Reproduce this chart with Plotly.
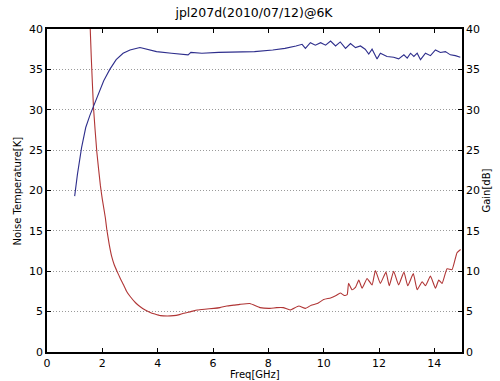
import plotly.graph_objects as go

title_text = "jpl207d(2010/07/12)@6K"
x_title = "Freq[GHz]"
y_title = "Noise Temperature[K]"
y2_title = "Gain[dB]"

noise_freq = [1.45, 1.55, 1.6, 1.68, 1.8, 1.93, 2.0, 2.11, 2.16, 2.25, 2.34, 2.43, 2.53, 2.65, 2.77, 2.88, 3.0, 3.2, 3.37, 3.55, 3.73, 3.9,
              4.1, 4.35, 4.58, 4.75, 4.94, 5.2, 5.43, 5.7, 6.03, 6.25, 6.5, 6.75, 6.97, 7.33, 7.7, 8.06,
              8.3, 8.54, 8.79, 9.1, 9.34, 9.55, 9.77, 10.0, 10.25, 10.45, 10.6, 10.75, 10.85, 10.9, 11.03,
              11.15, 11.27, 11.39, 11.57, 11.75, 11.87, 12.05, 12.25, 12.37, 12.53, 12.71, 12.9, 13.04,
              13.24, 13.38, 13.56, 13.68, 13.86, 14.04, 14.16, 14.28, 14.46, 14.64, 14.82, 14.95]
noise_temp = [48.0, 41.2, 36.5, 30.3, 24.8, 20.6, 18.9, 16.6, 15.2, 13.3, 11.8, 10.8, 10.0, 9.1, 8.3, 7.5, 6.9, 6.1, 5.6, 5.2, 4.9, 4.7,
              4.5, 4.45, 4.5, 4.6, 4.8, 5.0, 5.2, 5.3, 5.4, 5.5, 5.7, 5.8, 5.9, 6.0, 5.5, 5.4,
              5.5, 5.5, 5.2, 5.7, 5.4, 5.8, 6.0, 6.5, 6.7, 7.0, 7.3, 7.0, 7.1, 8.5, 7.7,
              8.0, 8.9, 7.9, 9.1, 8.3, 10.1, 8.5, 9.9, 8.2, 10.0, 8.3, 9.9, 8.2,
              9.7, 7.7, 8.7, 8.2, 9.4, 7.9, 8.9, 8.5, 10.3, 10.2, 12.3, 12.7]

gain_freq = [1.0, 1.1, 1.25, 1.4, 1.55, 1.67, 1.85, 2.05, 2.27, 2.5, 2.75, 3.0, 3.36, 3.7, 3.96, 4.5, 5.1,
             5.2, 5.6, 6.2, 7.0, 7.5, 8.16, 8.6, 9.0, 9.22, 9.34, 9.52, 9.7, 9.89, 10.07, 10.25, 10.43,
             10.6, 10.79, 10.97, 11.15, 11.33, 11.5, 11.63, 11.75, 11.93, 12.05, 12.29, 12.53, 12.71,
             12.9, 13.02, 13.14, 13.26, 13.38, 13.5, 13.68, 13.86, 14.04, 14.22, 14.4, 14.58, 14.76, 14.94]
gain_db = [19.3, 22.0, 25.3, 27.8, 29.3, 30.3, 32.0, 33.6, 35.0, 36.2, 37.0, 37.4, 37.7, 37.4, 37.2, 37.0, 36.8,
           37.1, 37.0, 37.1, 37.2, 37.2, 37.4, 37.6, 37.9, 38.1, 37.6, 38.3, 38.0, 38.3, 38.0, 38.5, 37.9,
           38.4, 37.6, 38.2, 37.7, 37.9, 37.5, 36.9, 37.5, 36.3, 37.0, 36.6, 36.5, 36.3,
           36.8, 36.4, 37.0, 36.6, 37.0, 36.2, 37.0, 36.7, 37.4, 37.1, 37.2, 36.8, 36.7, 36.5]

x_ticks = [0, 2, 4, 6, 8, 10, 12, 14]
y_ticks = [0, 5, 10, 15, 20, 25, 30, 35, 40]

FONT = "DejaVu Sans"

fig = go.Figure()
fig.add_trace(go.Scatter(x=noise_freq, y=noise_temp, mode="lines",
                         line=dict(color="#b03535", width=1.1, shape="spline", smoothing=0.4),
                         yaxis="y", showlegend=False))
fig.add_trace(go.Scatter(x=gain_freq, y=gain_db, mode="lines",
                         line=dict(color="#2e2e8c", width=1.1), yaxis="y2", showlegend=False))

axis_common = dict(showline=True, linecolor="black", linewidth=1.5, ticks="inside", ticklen=4,
                   tickcolor="black", tickfont=dict(family=FONT, size=11, color="black"),
                   zeroline=False, automargin=False)

fig.update_layout(
    width=500, height=381,
    margin=dict(l=47, r=38, t=29, b=29),
    paper_bgcolor="white", plot_bgcolor="white",
    font=dict(family=FONT, color="black"),
    title=dict(text=title_text, x=0.508, xanchor="center", y=0.966, yanchor="middle",
               font=dict(family=FONT, size=12.5, color="black")),
    xaxis=dict(range=[0, 15], tickvals=x_ticks, mirror="ticks", showgrid=False, **axis_common),
    yaxis=dict(range=[0, 40], tickvals=y_ticks, mirror=True, showgrid=True,
               gridcolor="#9a9a9a", griddash="1px,2px", gridwidth=1, **axis_common),
    yaxis2=dict(range=[0, 40], tickvals=y_ticks, overlaying="y", side="right", showgrid=False,
                **axis_common),
    annotations=[
        dict(text=x_title, xref="paper", yref="paper", x=0.5, y=-0.071, xanchor="center",
             yanchor="middle", showarrow=False, font=dict(family=FONT, size=10)),
        dict(text=y_title, xref="paper", yref="paper", x=-0.07, y=0.5, xanchor="center",
             yanchor="middle", showarrow=False, textangle=-90, font=dict(family=FONT, size=10)),
        dict(text=y2_title, xref="paper", yref="paper", x=1.058, y=0.5, xanchor="center",
             yanchor="middle", showarrow=False, textangle=-90, font=dict(family=FONT, size=10)),
    ],
)

fig.write_html("out.html", config={"displayModeBar": False},
               post_script="document.body.style.margin='0';")
